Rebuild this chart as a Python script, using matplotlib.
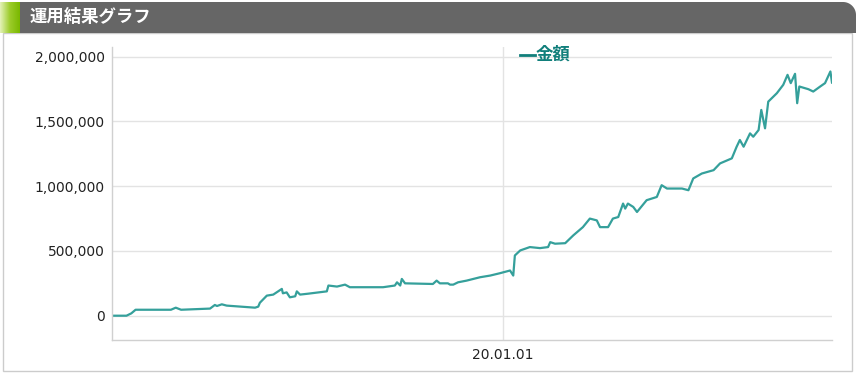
import matplotlib
matplotlib.use("Agg")
import matplotlib.pyplot as plt
import matplotlib.dates as mdates
from matplotlib.patches import Rectangle, Polygon
from matplotlib.lines import Line2D
from matplotlib.ticker import FuncFormatter, FixedLocator
from matplotlib.colors import LinearSegmentedColormap
import pandas as pd
import numpy as np

plt.rcParams['font.family'] = ['DejaVu Sans', 'Noto Sans CJK JP']

title = "運用結果グラフ"
series_name = "金額"
tick_dates = ["2020-01-01"]
tick_labels = ["20.01.01"]
y_ticks = [0, 500000, 1000000, 1500000, 2000000]

dates = [
    "2018-01-02", "2018-01-28", "2018-02-06", "2018-02-14", "2018-04-21", "2018-04-30",
    "2018-05-10", "2018-07-03", "2018-07-12", "2018-07-16", "2018-07-25", "2018-08-03",
    "2018-09-25", "2018-10-01", "2018-10-04", "2018-10-17", "2018-10-29", "2018-11-14",
    "2018-11-16", "2018-11-23", "2018-11-29", "2018-12-09", "2018-12-12", "2018-12-18",
    "2019-01-02", "2019-02-06", "2019-02-09", "2019-02-25", "2019-03-12", "2019-03-21",
    "2019-05-22", "2019-06-13", "2019-06-17", "2019-06-23", "2019-06-26", "2019-07-02",
    "2019-08-23", "2019-08-30", "2019-09-05", "2019-09-20", "2019-09-24", "2019-09-30",
    "2019-10-09", "2019-10-25", "2019-11-19", "2019-12-08", "2019-12-26", "2020-01-14",
    "2020-01-20", "2020-01-23", "2020-02-02", "2020-02-20", "2020-03-10", "2020-03-25",
    "2020-03-29", "2020-04-07", "2020-04-26", "2020-05-11", "2020-05-29", "2020-06-11",
    "2020-06-24", "2020-06-30", "2020-07-15", "2020-07-24", "2020-08-03", "2020-08-12",
    "2020-08-16", "2020-08-21", "2020-08-31", "2020-09-07", "2020-09-25", "2020-10-14",
    "2020-10-23", "2020-11-02", "2020-11-30", "2020-12-12", "2020-12-21", "2021-01-06",
    "2021-01-28", "2021-02-09", "2021-03-03", "2021-03-12", "2021-03-18", "2021-03-25",
    "2021-04-06", "2021-04-12", "2021-04-22", "2021-04-27", "2021-05-04", "2021-05-10",
    "2021-05-26", "2021-06-07", "2021-06-15", "2021-06-21", "2021-06-29", "2021-07-03",
    "2021-07-07", "2021-07-24", "2021-08-02", "2021-08-15", "2021-08-24", "2021-09-03",
    "2021-09-06",
]
values = [
    0, 0, 18000, 46000, 46000, 62000,
    46000, 55000, 83000, 75000, 88000, 78000,
    62000, 70000, 100000, 155000, 163000, 207000,
    173000, 180000, 142000, 150000, 188000, 163000,
    170000, 188000, 233000, 225000, 240000, 220000,
    220000, 233000, 258000, 233000, 284000, 250000,
    245000, 271000, 250000, 250000, 240000, 240000,
    258000, 271000, 297000, 310000, 328000, 349000,
    310000, 465000, 504000, 530000, 522000, 530000,
    568000, 556000, 560000, 620000, 684000, 750000,
    736000, 684000, 684000, 750000, 762000, 866000,
    827000, 866000, 840000, 801000, 892000, 917000,
    1008000, 982000, 982000, 969000, 1060000, 1098000,
    1124000, 1176000, 1215000, 1305000, 1357000, 1305000,
    1408000, 1382000, 1434000, 1589000, 1447000, 1653000,
    1718000, 1783000, 1860000, 1796000, 1868000, 1641000,
    1770000, 1749000, 1731000, 1770000, 1796000, 1886000,
    1800000,
]

W, H = 856, 373
fig = plt.figure(figsize=(W / 100, H / 100), dpi=100)
fig.patch.set_facecolor('white')

# outer frame
fig.add_artist(Rectangle((3 / W, 2 / H), 849 / W, (H - 35) / H, transform=fig.transFigure,
                         facecolor='none', edgecolor='#cccccc', linewidth=1, zorder=-1))
# title bar with rounded top-right corner (pixel coords, y from top)
r = 13
top, bot, right = 2, 33, 856
theta = np.linspace(np.pi / 2, 0, 20)
arc = [(right - r + r * np.cos(t), top + r - r * np.sin(t)) for t in theta]
pts = [(0, bot), (0, top)] + arc + [(right, bot)]
pts_fig = [(px / W, 1 - py / H) for px, py in pts]
fig.add_artist(Polygon(pts_fig, closed=True, transform=fig.transFigure,
                       facecolor='#666666', edgecolor='none', zorder=1))
# green accent (gradient)
grad = np.linspace(0, 1, 64).reshape(1, -1)
ax_g = fig.add_axes([0, (H - 33) / H, 20 / W, 31 / H], zorder=2)
cm = LinearSegmentedColormap.from_list('g', ['#e4f2b8', '#9ccc2a', '#7ab800'])
ax_g.imshow(grad, aspect='auto', cmap=cm, extent=[0, 1, 0, 1])
ax_g.axis('off')
fig.text(30 / W, (H - 17) / H, title, color='white', fontsize=12.5, fontweight='bold',
         family=['Noto Sans CJK JP', 'DejaVu Sans'], va='center', ha='left', zorder=3)

ax = fig.add_axes([112 / W, 1 - 340 / H, (832 - 112) / W, (340 - 47) / H], zorder=2)
ax.patch.set_alpha(0)
x = pd.to_datetime(dates)
line_color = '#35a09b'
ax.plot(x, values, color=line_color, linewidth=1.6, solid_joinstyle='round')

ax.set_xlim(pd.Timestamp("2018-01-01"), pd.Timestamp("2021-09-06"))
ax.set_ylim(-187600, 2075000)
ax.xaxis.set_major_locator(FixedLocator(mdates.date2num(pd.to_datetime(tick_dates))))
ax.set_xticklabels(tick_labels)
ax.set_yticks(y_ticks)
ax.yaxis.set_major_formatter(FuncFormatter(lambda v, p: f"{int(v):,}"))
ax.grid(True, color='#e3e3e3', linewidth=1)
ax.set_axisbelow(True)
for s in ['top', 'right']:
    ax.spines[s].set_visible(False)
for s in ['left', 'bottom']:
    ax.spines[s].set_color('#d0d0d0')
    ax.spines[s].set_linewidth(1)
ax.tick_params(axis='both', length=0, labelsize=10, colors='#222222', pad=5)
ax.tick_params(axis='x', pad=6)

# legend
fig.add_artist(Line2D([520 / W, 535 / W], [1 - 55 / H, 1 - 55 / H], transform=fig.transFigure,
                      color='#117f7b', linewidth=2.0, zorder=3))
fig.text(536 / W, 1 - 54.5 / H, series_name, color='#117f7b', fontsize=12.5, fontweight='bold',
         family=['Noto Sans CJK JP', 'DejaVu Sans'], va='center', ha='left', zorder=3)

fig.savefig('out.png', dpi=100)
